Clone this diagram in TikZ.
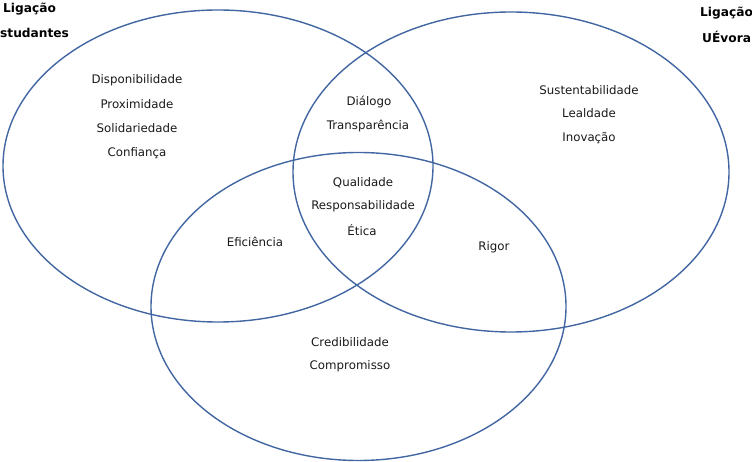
\documentclass[tikz,border=0pt]{standalone}
\usepackage{fontspec}
\setmainfont{DejaVu Sans}
\usetikzlibrary{shapes.geometric}
\definecolor{ringblue}{RGB}{66,102,162}
\definecolor{txt}{RGB}{25,25,25}
\tikzset{
  ring/.style={ellipse, draw=ringblue, line width=1.4pt, inner sep=0pt},
  lbl/.style={text=txt, font=\fontsize{11.8}{13}\selectfont, align=center, inner sep=0pt},
  head/.style={text=black, font=\fontsize{12.2}{14}\bfseries\selectfont, inner sep=0pt}
}
\begin{document}
\begin{tikzpicture}[x=1pt,y=-1pt]
\useasboundingbox (0,0) rectangle (752,462);
\node[ring, minimum width=430pt, minimum height=312pt] (L) at (218,166) {};
\node[ring, minimum width=436pt, minimum height=320pt] (R) at (511,172) {};
\node[ring, minimum width=415pt, minimum height=308pt] (B) at (358.5,306.5) {};

\node[lbl] (d1) at (137,80) {Disponibilidade};
\node[lbl] (d2) at (137,104) {Proximidade};
\node[lbl] (d3) at (137,128) {Solidariedade};
\node[lbl] (d4) at (137,153) {Confiança};

\node[lbl] (t1) at (369,102) {Diálogo};
\node[lbl] (t2) at (368,126) {Transparência};

\node[lbl] (s1) at (589,90) {Sustentabilidade};
\node[lbl] (s2) at (589,113) {Lealdade};
\node[lbl] (s3) at (589,138) {Inovação};

\node[lbl] (q1) at (363,183) {Qualidade};
\node[lbl] (q2) at (363,206) {Responsabilidade};
\node[lbl] (q3) at (362,230) {Ética};

\node[lbl] (ef) at (255,242) {Eficiência};
\node[lbl] (rg) at (494,247) {Rigor};

\node[lbl] (c1) at (350,342) {Credibilidade};
\node[lbl] (c2) at (350,366) {Compromisso};

\node[head, anchor=west] (h1) at (3,9) {Ligação};
\node[head, anchor=west] (h2) at (0,33) {studantes};
\node[head, anchor=west] (h3) at (700,13) {Ligação};
\node[head, anchor=west] (h4) at (702,37) {UÉvora};
\end{tikzpicture}
\end{document}
